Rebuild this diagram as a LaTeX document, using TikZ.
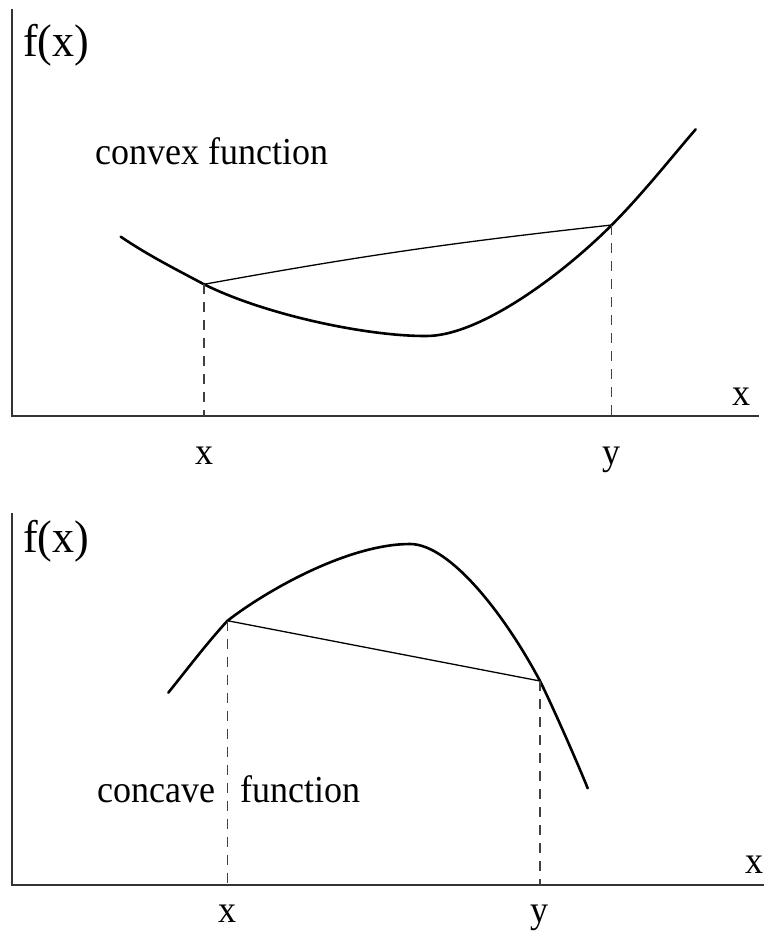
\documentclass[tikz,border=0pt]{standalone}
\usepackage{graphicx}
\usepackage{fontspec}
\setmainfont{Liberation Serif}
\begin{document}
\begin{tikzpicture}[x=1pt,y=-1pt,
  axisline/.style={line width=1.8pt, draw=black!80},
  curveline/.style={line width=2.6pt, line join=round, line cap=round},
  chordline/.style={line width=1.3pt},
  guide/.style={line width=1.5pt, draw=black!75, dash pattern=on 10pt off 8pt},
  lbl/.style={inner sep=0pt, font=\fontsize{36}{40}\selectfont},
  flbl/.style={inner sep=0pt, font=\fontsize{44}{48}\selectfont}]
\useasboundingbox (0,0) rectangle (764,933);

% ---------- top panel: convex ----------
\coordinate (o1) at (12,416);
\coordinate (ytop1) at (12,9);
\coordinate (xend1) at (759,416);
\draw[axisline] (ytop1) -- (o1) -- (xend1);

\coordinate (s1) at (120.7,236.7);
\coordinate (px1) at (204,284.3);
\coordinate (m1) at (425,336);
\coordinate (py1) at (611.7,225);
\coordinate (e1) at (695.7,129.3);
\draw[curveline] (s1) .. controls (148.7,255.7) and (176,269.3) .. (px1)
  .. controls (264,314.3) and (365,336) .. (m1)
  .. controls (480,337) and (565,272) .. (py1)
  .. controls (641.7,195) and (670.7,158.3) .. (e1);

\draw[chordline] (px1) to[bend left=2] (py1);
\draw[guide] (px1) -- (px1 |- o1);
\draw[guide] (py1) -- (py1 |- o1);

\node[flbl] (fx1) at (56,45) {\scalebox{1}[1.04]{f(x)}};
\node[lbl, anchor=base west] (cvx) at (95,164.5) {\scalebox{1}[1.06]{convex function}};
\node[lbl, anchor=base] (ax1) at (741,405) {\scalebox{1}[1.06]{x}};
\node[lbl, anchor=base] (xl1) at (204,464) {\scalebox{1}[1.06]{x}};
\node[lbl, anchor=base] (yl1) at (611.7,464) {\scalebox{1}[1.06]{y}};

% ---------- bottom panel: concave ----------
\coordinate (o2) at (12,885);
\coordinate (ytop2) at (12,513);
\coordinate (xend2) at (764,885);
\draw[axisline] (ytop2) -- (o2) -- (xend2);

\coordinate (s2) at (168.3,692.7);
\coordinate (px2) at (227.5,620.7);
\coordinate (m2) at (410,544);
\coordinate (py2) at (540,681);
\coordinate (e2) at (587.7,788.3);
\draw[curveline] (s2) .. controls (188.3,667.7) and (207.3,642.7) .. (px2)
  .. controls (270,588) and (350,544) .. (m2)
  .. controls (450,544) and (505,615) .. (py2)
  .. controls (552,705) and (577.7,763.3) .. (e2);

\draw[chordline] (px2) -- (py2);
\draw[guide] (px2) -- (px2 |- o2);
\draw[guide] (py2) -- (py2 |- o2);

\node[flbl] (fx2) at (56,541) {\scalebox{1}[1.04]{f(x)}};
\node[lbl, anchor=base west] (ccv) at (97,802.7) {\scalebox{1}[1.06]{concave}};
\node[lbl, anchor=base west] (fun) at (240.5,802.7) {\scalebox{1}[1.06]{function}};
\node[lbl, anchor=base] (ax2) at (754,873) {\scalebox{1}[1.06]{x}};
\node[lbl, anchor=base] (xl2) at (227.5,922) {\scalebox{1}[1.06]{x}};
\node[lbl, anchor=base] (yl2) at (539.5,922) {\scalebox{1}[1.06]{y}};
\end{tikzpicture}
\end{document}
